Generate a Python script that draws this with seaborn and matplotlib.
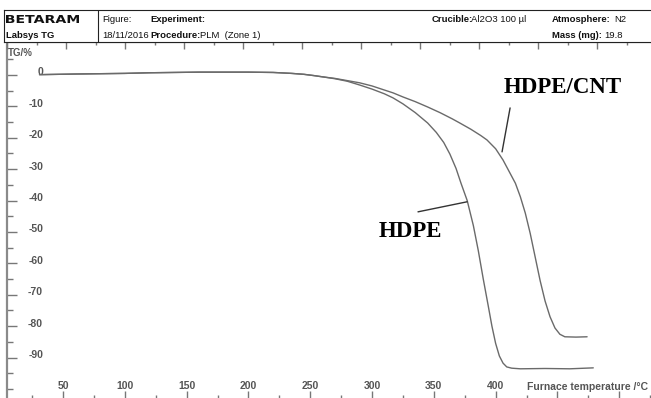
import numpy as np
import pandas as pd
import seaborn as sns
import matplotlib.pyplot as plt
from matplotlib.transforms import ScaledTranslation, Affine2D
from matplotlib.ticker import MultipleLocator, FixedLocator
from matplotlib.textpath import TextPath
from matplotlib.patches import PathPatch
from matplotlib.font_manager import FontProperties

# common baseline of both samples before decomposition (furnace temperature /°C, TG /%)
base_temp = [31, 60, 80, 100, 120, 140, 160, 180, 200, 220, 235, 245, 253, 260]
base_tg = [0.1, 0.3, 0.4, 0.5, 0.7, 0.8, 0.9, 0.9, 0.9, 0.8, 0.5, 0.2, -0.2, -0.6]

# HDPE mass-loss curve
hdpe_temp = [270, 280, 290, 300, 310, 317, 325, 335, 345, 352, 358, 363, 368, 372, 377,
             382, 386, 390, 394, 397, 400, 403, 406, 409, 413, 420, 440, 460, 479]
hdpe_tg = [-1.2, -2.0, -3.2, -4.5, -6.0, -7.3, -9.2, -12.0, -15.3, -18.3, -21.5, -25.2,
           -29.8, -34.5, -40.0, -48.0, -56.0, -65.0, -73.5, -80.0, -85.5, -89.5, -91.8,
           -93.0, -93.4, -93.6, -93.5, -93.6, -93.3]

# HDPE/CNT mass-loss curve
cnt_temp = [270, 280, 290, 300, 310, 317, 325, 335, 345, 355, 365, 371, 380, 388, 393,
            400, 406, 411, 416, 420, 424, 428, 432, 436, 440, 444, 448, 452, 456, 465, 474]
cnt_tg = [-1.1, -1.8, -2.5, -3.5, -4.8, -5.7, -7.0, -8.5, -10.2, -12.0, -14.0, -15.3,
          -17.3, -19.3, -20.7, -23.5, -27.1, -30.8, -34.5, -38.8, -44.0, -50.5, -58.0,
          -65.5, -72.0, -77.0, -80.6, -82.6, -83.4, -83.5, -83.4]

samples = ["HDPE", "HDPE/CNT"]
y_ticks = [0, -10, -20, -30, -40, -50, -60, -70, -80, -90]
x_ticks = [50, 100, 150, 200, 250, 300, 350, 400, 450, 500]
x_tick_labels = ["50", "100", "150", "200", "250", "300", "350", "400", "", ""]

df = pd.concat([
    pd.DataFrame({"sample": samples[0], "temp": base_temp + hdpe_temp, "tg": base_tg + hdpe_tg}),
    pd.DataFrame({"sample": samples[1], "temp": base_temp + cnt_temp, "tg": base_tg + cnt_tg}),
])

sns.set_theme(style="white")
plt.rcParams["font.family"] = ["Liberation Sans", "DejaVu Sans"]

W, H = 651, 398
fig = plt.figure(figsize=(W / 100, H / 100), dpi=100)
fig.patch.set_facecolor("white")

# --- plot area -------------------------------------------------------------
ax = fig.add_axes([7 / W, 0, 1 - 7 / W, 1 - 42 / H])
sns.lineplot(data=df, x="temp", y="tg", hue="sample", units="sample", estimator=None,
             sort=False, palette={s: "#6a6a6a" for s in samples}, lw=1.0,
             legend=False, ax=ax)
ax.set_xlim(4.7, 525.7)
ax.set_ylim(-102.9, 10.5)
ax.set_xlabel("")
ax.set_ylabel("")

for side in ("right", "bottom"):
    ax.spines[side].set_visible(False)
ax.spines["left"].set_color("#8a8a8a")
ax.spines["left"].set_linewidth(1.6)
ax.spines["top"].set_color("#222222")
ax.spines["top"].set_linewidth(0.8)

tick_col = "#555555"
ax.set_yticks(y_ticks)
ax.set_yticklabels([str(v) for v in y_ticks])
ax.yaxis.set_minor_locator(FixedLocator(np.arange(5, -101, -5)))
ax.set_xticks(x_ticks)
ax.set_xticklabels(x_tick_labels)
ax.xaxis.set_minor_locator(MultipleLocator(25))
ax.tick_params(axis="y", which="major", left=True, direction="in", length=7, width=1,
               color="#777777", pad=-26, labelsize=7.5, labelcolor=tick_col)
ax.tick_params(axis="y", which="minor", left=True, direction="in", length=4, width=1,
               color="#777777")
ax.tick_params(axis="x", which="major", bottom=True, direction="in", length=5, width=1,
               color="#777777", pad=-12, labelsize=7.5, labelcolor=tick_col)
ax.tick_params(axis="x", which="minor", bottom=True, direction="in", length=2.5, width=1,
               color="#777777")
for lab in ax.get_yticklabels():
    lab.set_fontweight("bold")
    lab.set_transform(lab.get_transform() + ScaledTranslation(0, 0.035, fig.dpi_scale_trans))
for lab in ax.get_xticklabels():
    lab.set_fontweight("bold")

# time scale ticks along the top edge
top = ax.twiny()
top.set_xlim(0, 644 / 59)
top.xaxis.set_major_locator(MultipleLocator(1))
top.xaxis.set_minor_locator(MultipleLocator(0.5))
top.tick_params(axis="x", which="major", top=True, direction="in", length=5, width=1,
                color="#777777", labeltop=False)
top.tick_params(axis="x", which="minor", top=True, direction="in", length=2.5, width=1,
                color="#777777")
for side in ("right", "bottom", "left", "top"):
    top.spines[side].set_visible(False)

ax.text(0.002, 1.0 - 11 / 356, "TG/%", transform=ax.transAxes, ha="left", va="center",
        fontsize=7, fontweight="bold", color=tick_col)
ax.text(0.995, 11 / 356, "Furnace temperature /°C", transform=ax.transAxes, ha="right",
        va="center", fontsize=7.5, fontweight="bold", color=tick_col)

# sample labels with leader lines
serif = ["Liberation Serif", "DejaVu Serif"]
ax.text(454.5, -4.0, "HDPE/CNT", ha="center", va="center", fontsize=16.5,
        fontweight="bold", family=serif, color="black")
ax.annotate("", xy=(405.2, -24.5), xytext=(411.7, -10.5),
            arrowprops=dict(arrowstyle="-", color="#333333", lw=1.0, shrinkA=0, shrinkB=0))
ax.text(330.7, -49.8, "HDPE", ha="center", va="center", fontsize=16.5,
        fontweight="bold", family=serif, color="black")
ax.annotate("", xy=(376.9, -40.4), xytext=(337.2, -43.6),
            arrowprops=dict(arrowstyle="-", color="#333333", lw=1.0, shrinkA=0, shrinkB=0))

# --- instrument header ----------------------------------------------------
hax = fig.add_axes([4 / W, 1 - 42 / H, 1 - 4 / W, 32 / H])
hax.set_xlim(4, 651)
hax.set_ylim(42, 10)
hax.set_xticks([])
hax.set_yticks([])
for side in ("left", "top", "bottom"):
    hax.spines[side].set_color("#222222")
    hax.spines[side].set_linewidth(0.8)
hax.spines["right"].set_visible(False)
hax.axvline(98, color="#222222", lw=0.8)

# wide, squat maker logotype
logo = TextPath((0, 0), "BETARAM", size=1,
                prop=FontProperties(family="DejaVu Sans", weight="bold"))
lb = logo.get_extents()
logo_tr = (Affine2D().translate(-lb.x0, -lb.y0)
           .scale(73 / lb.width, -8 / lb.height).translate(6, 23) + hax.transData)
hax.add_patch(PathPatch(logo, transform=logo_tr, facecolor="#111111", lw=0))

hdr = dict(fontsize=6.8, color="#111111", va="center", ha="left")
hax.text(6, 35, "Labsys TG", fontweight="bold", **hdr)
hax.text(102, 19, "Figure:", **hdr)
hax.text(102, 35, "18/11/2016", **hdr)
hax.text(150, 19, "Experiment:", fontweight="bold", **hdr)
hax.text(150, 35, "Procedure:", fontweight="bold", **hdr)
hax.text(200, 35, "PLM  (Zone 1)", **hdr)
hax.text(432, 19, "Crucible:", fontweight="bold", **hdr)
hax.text(471, 19, "Al2O3 100 µl", **hdr)
hax.text(552, 19, "Atmosphere:", fontweight="bold", **hdr)
hax.text(614, 19, "N2", **hdr)
hax.text(552, 35, "Mass (mg):", fontweight="bold", **hdr)
hax.text(604, 35, "19.8", **hdr)

fig.savefig("out.png", dpi=100, facecolor="white")
